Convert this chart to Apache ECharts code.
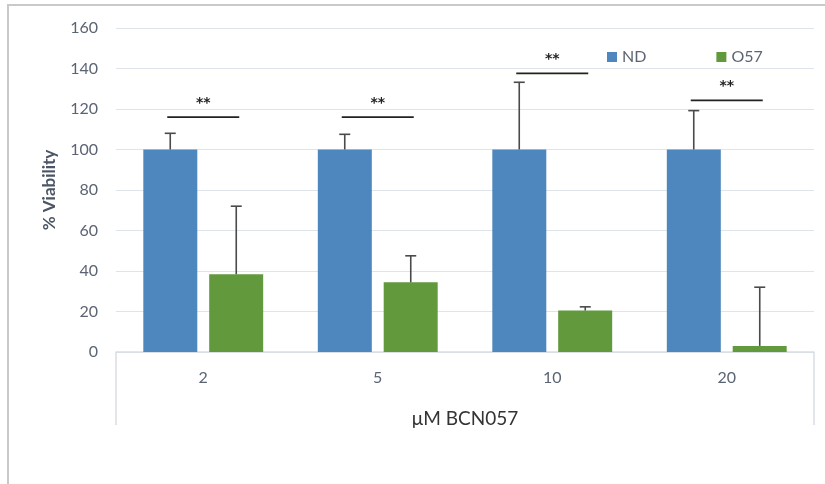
<!DOCTYPE html>
<html><head><meta charset="utf-8">
<script src="https://cdn.jsdelivr.net/npm/echarts@6/dist/echarts.min.js"></script>
<style>html,body{margin:0;padding:0;background:#fff}#c{width:825px;height:484px}</style>
</head><body><div id="c"></div>
<script>
const categories = ['2', '5', '10', '20'];
const seriesNames = ['ND', 'O57'];
const ndValues = [100, 100, 100, 100];
const o57Values = [38.4, 34.4, 20.5, 3];
const ndErrorTop = [108, 107.5, 133.2, 119.2];
const o57ErrorTop = [72, 47.5, 22.3, 32];
const sigLineHeights = [116, 116, 137.6, 124.3];
const sigLabels = ['**', '**', '**', '**'];
const yTicks = [0, 20, 40, 60, 80, 100, 120, 140, 160];

const BLUE = '#4e87bd', GREEN = '#62993d';
const BAR_W = 54, BAR_OFF = 33;
const chart = echarts.init(document.getElementById('c'));

function errorItem(offset) {
  return function (params, api) {
    const i = api.value(0);
    const base = api.coord([i, api.value(1)]);
    const top = api.coord([i, api.value(2)]);
    const x = base[0] + offset;
    return { type: 'group', children: [
      { type: 'line', shape: { x1: x, y1: base[1], x2: x, y2: top[1] }, style: { stroke: '#4a4a4a', lineWidth: 1.6 } },
      { type: 'line', shape: { x1: x - 5.5, y1: top[1], x2: x + 5.5, y2: top[1] }, style: { stroke: '#4a4a4a', lineWidth: 1.6 } }
    ]};
  };
}

const option = {
  animation: false,
  textStyle: { fontFamily: 'Lato, "Open Sans", sans-serif' },
  grid: { left: 116, right: 11, top: 28, bottom: 132 },
  legend: {
    data: seriesNames, left: 602, top: 44, itemWidth: 10, itemHeight: 10, itemGap: 70,
    icon: 'rect', textStyle: { fontSize: 16, color: '#5b6473' }
  },
  xAxis: {
    type: 'category', data: categories,
    name: 'μM BCN057', nameLocation: 'middle', nameGap: 57,
    nameTextStyle: { fontSize: 19, color: '#333' },
    axisLine: { lineStyle: { color: '#d9dde3', width: 1.5 } },
    axisTick: { show: false },
    axisLabel: { fontSize: 16, color: '#5b6473', margin: 18 }
  },
  yAxis: {
    type: 'value', min: 0, max: 160, interval: 20,
    name: '% Viability', nameLocation: 'middle', nameGap: 58,
    nameTextStyle: { fontSize: 17, fontWeight: 'bold', color: '#4b5565' },
    axisLine: { show: false }, axisTick: { show: false },
    axisLabel: { fontSize: 16, color: '#5b6473', margin: 18 },
    splitLine: { lineStyle: { color: '#dfe4eb', width: 1.2 } }
  },
  series: [
    { name: 'ND', type: 'bar', data: ndValues, barWidth: BAR_W, barGap: '22%', itemStyle: { color: BLUE } },
    { name: 'O57', type: 'bar', data: o57Values, barWidth: BAR_W, itemStyle: { color: GREEN } },
    { type: 'custom', renderItem: errorItem(-BAR_OFF), data: ndValues.map((v, i) => [i, v, ndErrorTop[i]]), z: 5, silent: true },
    { type: 'custom', renderItem: errorItem(BAR_OFF), data: o57Values.map((v, i) => [i, v, o57ErrorTop[i]]), z: 5, silent: true },
    { type: 'custom', z: 6, silent: true,
      data: sigLineHeights.map((v, i) => [i, v]),
      renderItem: function (params, api) {
        const p = api.coord([api.value(0), api.value(1)]);
        return { type: 'group', children: [
          { type: 'line', shape: { x1: p[0] - 36, y1: p[1], x2: p[0] + 36, y2: p[1] }, style: { stroke: '#222', lineWidth: 1.8 } },
          { type: 'text', style: { x: p[0], y: p[1] - 14, text: sigLabels[params.dataIndex], textAlign: 'center', textVerticalAlign: 'middle', font: 'bold 14px "DejaVu Sans", sans-serif', fill: '#222' } }
        ]};
      }
    }
  ]
};
chart.setOption(option);

// multi-level axis box end lines + outer frame
const x0 = chart.convertToPixel({ xAxisIndex: 0 }, 0);
const x3 = chart.convertToPixel({ xAxisIndex: 0 }, 3);
const half = (x3 - x0) / 6;
const yBase = chart.convertToPixel({ yAxisIndex: 0 }, 0);
chart.setOption({ graphic: [
  { type: 'rect', shape: { x: 8, y: 5, width: 840, height: 520 }, style: { fill: 'none', stroke: '#c9c9c9', lineWidth: 2 }, silent: true },
  { type: 'line', shape: { x1: x0 - half, y1: yBase, x2: x0 - half, y2: yBase + 73 }, style: { stroke: '#d9dde3', lineWidth: 1.5 } },
  { type: 'line', shape: { x1: x3 + half, y1: yBase, x2: x3 + half, y2: yBase + 73 }, style: { stroke: '#d9dde3', lineWidth: 1.5 } }
]});
</script></body></html>
